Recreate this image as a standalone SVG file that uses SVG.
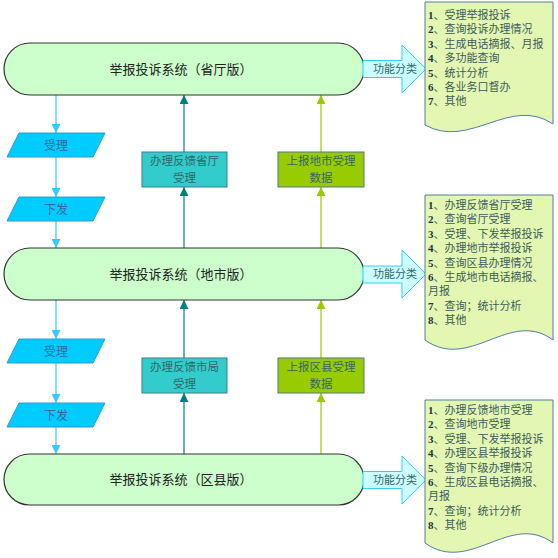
<svg xmlns="http://www.w3.org/2000/svg" width="558" height="558" viewBox="0 0 558 558">
<defs>
<style>
.term{fill:#CCFFCC;stroke:#333333;stroke-width:1.2}
.title{font-family:"Noto Sans CJK SC","Liberation Sans",sans-serif;font-size:13px;fill:#222222;text-anchor:middle}
.para{fill:#00CCFF;stroke:#3399CC;stroke-width:1}
.ptxt{font-family:"Noto Sans CJK SC",sans-serif;font-size:12px;fill:#336699;text-anchor:middle}
.tbox{fill:#33CCCC;stroke:#3A7F8F;stroke-width:1}
.gbox{fill:#99CC00;stroke:#4A7A8A;stroke-width:1}
.btxt{font-family:"Noto Sans CJK SC",sans-serif;font-size:11.5px;fill:#336666;text-anchor:middle}
.barrow{fill:#CCFFFF;stroke:#33CCFF;stroke-width:1}
.batxt{font-family:"Noto Sans CJK SC",sans-serif;font-size:11px;fill:#336666;text-anchor:middle}
.doc{fill:#E3F7B3;stroke:#4F7F9F;stroke-width:1}
.dtxt{font-family:"Liberation Serif","Noto Sans CJK SC",serif;font-size:11px;fill:#3D5C5C}
.num{font-weight:bold;fill:#1F3340}
.cy{stroke:#33CCFF;stroke-width:1.2;fill:none;marker-end:url(#mcy)}
.tl{stroke:#008080;stroke-width:1.2;fill:none;marker-end:url(#mtl)}
.gr{stroke:#99CC00;stroke-width:1.2;fill:none;marker-end:url(#mgr)}
</style>
<marker id="mcy" viewBox="0 0 10 10" refX="10" refY="5" markerWidth="9" markerHeight="9" markerUnits="userSpaceOnUse" orient="auto"><path d="M0,0 L10,5 L0,10 z" fill="#33CCFF"/></marker>
<marker id="mtl" viewBox="0 0 10 10" refX="10" refY="5" markerWidth="9" markerHeight="9" markerUnits="userSpaceOnUse" orient="auto"><path d="M0,0 L10,5 L0,10 z" fill="#008080"/></marker>
<marker id="mgr" viewBox="0 0 10 10" refX="10" refY="5" markerWidth="9" markerHeight="9" markerUnits="userSpaceOnUse" orient="auto"><path d="M0,0 L10,5 L0,10 z" fill="#99CC00"/></marker>
</defs>
<rect width="558" height="558" fill="#FFFFFF"/>

<g id="connectors">
<line class="cy" x1="56" y1="95" x2="56" y2="133"/>
<line class="cy" x1="56" y1="157" x2="56" y2="197"/>
<line class="cy" x1="56" y1="221" x2="56" y2="248"/>
<line class="cy" x1="56" y1="300" x2="56" y2="339"/>
<line class="cy" x1="56" y1="363" x2="56" y2="403"/>
<line class="cy" x1="56" y1="427" x2="56" y2="454"/>
<line class="tl" x1="184" y1="152" x2="184" y2="95"/>
<line class="tl" x1="184" y1="248" x2="184" y2="187"/>
<line class="tl" x1="184" y1="358" x2="184" y2="300"/>
<line class="tl" x1="184" y1="454" x2="184" y2="393"/>
<line class="gr" x1="321" y1="152" x2="321" y2="95"/>
<line class="gr" x1="321" y1="248" x2="321" y2="187"/>
<line class="gr" x1="321" y1="358" x2="321" y2="300"/>
<line class="gr" x1="321" y1="454" x2="321" y2="393"/>
</g>

<g id="sys-province">
<rect class="term" x="4" y="43" width="360" height="52" rx="26" ry="26"/>
<text class="title" x="181" y="73.5">举报投诉系统（省厅版）</text>
</g>
<g id="sys-city">
<rect class="term" x="4" y="248" width="360" height="52" rx="26" ry="26"/>
<text class="title" x="181" y="278.5">举报投诉系统（地市版）</text>
</g>
<g id="sys-county">
<rect class="term" x="4" y="454" width="360" height="51" rx="25.5" ry="25.5"/>
<text class="title" x="181" y="484">举报投诉系统（区县版）</text>
</g>

<g id="p-accept-1">
<polygon class="para" points="19,133 105,133 93,157 7,157"/>
<text class="ptxt" x="56" y="149.5">受理</text>
</g>
<g id="p-issue-1">
<polygon class="para" points="19,197 105,197 93,221 7,221"/>
<text class="ptxt" x="56" y="213.5">下发</text>
</g>
<g id="p-accept-2">
<polygon class="para" points="19,339 105,339 93,363 7,363"/>
<text class="ptxt" x="56" y="355.5">受理</text>
</g>
<g id="p-issue-2">
<polygon class="para" points="19,403 105,403 93,427 7,427"/>
<text class="ptxt" x="56" y="419.5">下发</text>
</g>

<g id="box-feedback-province">
<rect class="tbox" x="142" y="152" width="85" height="35"/>
<text class="btxt" x="184.5" y="165">办理反馈省厅</text>
<text class="btxt" x="184.5" y="182">受理</text>
</g>
<g id="box-report-city">
<rect class="gbox" x="278" y="152" width="86" height="35"/>
<text class="btxt" x="321" y="165">上报地市受理</text>
<text class="btxt" x="321" y="182">数据</text>
</g>
<g id="box-feedback-city">
<rect class="tbox" x="142" y="358" width="85" height="35"/>
<text class="btxt" x="184.5" y="371">办理反馈市局</text>
<text class="btxt" x="184.5" y="388">受理</text>
</g>
<g id="box-report-county">
<rect class="gbox" x="278" y="358" width="86" height="35"/>
<text class="btxt" x="321" y="371">上报区县受理</text>
<text class="btxt" x="321" y="388">数据</text>
</g>

<g id="arrow-func-1">
<polygon class="barrow" points="363,60.5 402,60.5 402,45 426,69 402,93 402,77.5 363,77.5"/>
<text class="batxt" x="395" y="73">功能分类</text>
</g>
<g id="arrow-func-2">
<polygon class="barrow" points="363,266 402,266 402,250 426,274 402,298 402,283 363,283"/>
<text class="batxt" x="395" y="278">功能分类</text>
</g>
<g id="arrow-func-3">
<polygon class="barrow" points="363,471.5 402,471.5 402,456 426,480 402,504 402,488.5 363,488.5"/>
<text class="batxt" x="395" y="484">功能分类</text>
</g>

<g id="doc-province">
<path class="doc" d="M425,2 L553,2 L553,124 C510,95 470,150 425,125 Z"/>
<text class="dtxt">
<tspan x="428" y="19"><tspan class="num">1</tspan>、受理举报投诉</tspan>
<tspan x="428" y="33.4"><tspan class="num">2</tspan>、查询投诉办理情况</tspan>
<tspan x="428" y="47.8"><tspan class="num">3</tspan>、生成电话摘报、月报</tspan>
<tspan x="428" y="62.2"><tspan class="num">4</tspan>、多功能查询</tspan>
<tspan x="428" y="76.6"><tspan class="num">5</tspan>、统计分析</tspan>
<tspan x="428" y="91"><tspan class="num">6</tspan>、各业务口督办</tspan>
<tspan x="428" y="105.4"><tspan class="num">7</tspan>、其他</tspan>
</text>
</g>

<g id="doc-city">
<path class="doc" d="M425,195 L553,195 L553,340 C510,308 470,372 425,340 Z"/>
<text class="dtxt">
<tspan x="428" y="209"><tspan class="num">1</tspan>、办理反馈省厅受理</tspan>
<tspan x="428" y="223.4"><tspan class="num">2</tspan>、查询省厅受理</tspan>
<tspan x="428" y="237.8"><tspan class="num">3</tspan>、受理、下发举报投诉</tspan>
<tspan x="428" y="252.2"><tspan class="num">4</tspan>、办理地市举报投诉</tspan>
<tspan x="428" y="266.6"><tspan class="num">5</tspan>、查询区县办理情况</tspan>
<tspan x="428" y="281"><tspan class="num">6</tspan>、生成地市电话摘报、</tspan>
<tspan x="428" y="295.4">月报</tspan>
<tspan x="428" y="309.8"><tspan class="num">7</tspan>、查询；统计分析</tspan>
<tspan x="428" y="324.2"><tspan class="num">8</tspan>、其他</tspan>
</text>
</g>

<g id="doc-county">
<path class="doc" d="M425,400 L553,400 L553,543 C510,511 470,575 425,543 Z"/>
<text class="dtxt">
<tspan x="428" y="414"><tspan class="num">1</tspan>、办理反馈地市受理</tspan>
<tspan x="428" y="428.4"><tspan class="num">2</tspan>、查询地市受理</tspan>
<tspan x="428" y="442.8"><tspan class="num">3</tspan>、受理、下发举报投诉</tspan>
<tspan x="428" y="457.2"><tspan class="num">4</tspan>、办理区县举报投诉</tspan>
<tspan x="428" y="471.6"><tspan class="num">5</tspan>、查询下级办理情况</tspan>
<tspan x="428" y="486"><tspan class="num">6</tspan>、生成区县电话摘报、</tspan>
<tspan x="428" y="500.4">月报</tspan>
<tspan x="428" y="514.8"><tspan class="num">7</tspan>、查询；统计分析</tspan>
<tspan x="428" y="529.2"><tspan class="num">8</tspan>、其他</tspan>
</text>
</g>
</svg>
